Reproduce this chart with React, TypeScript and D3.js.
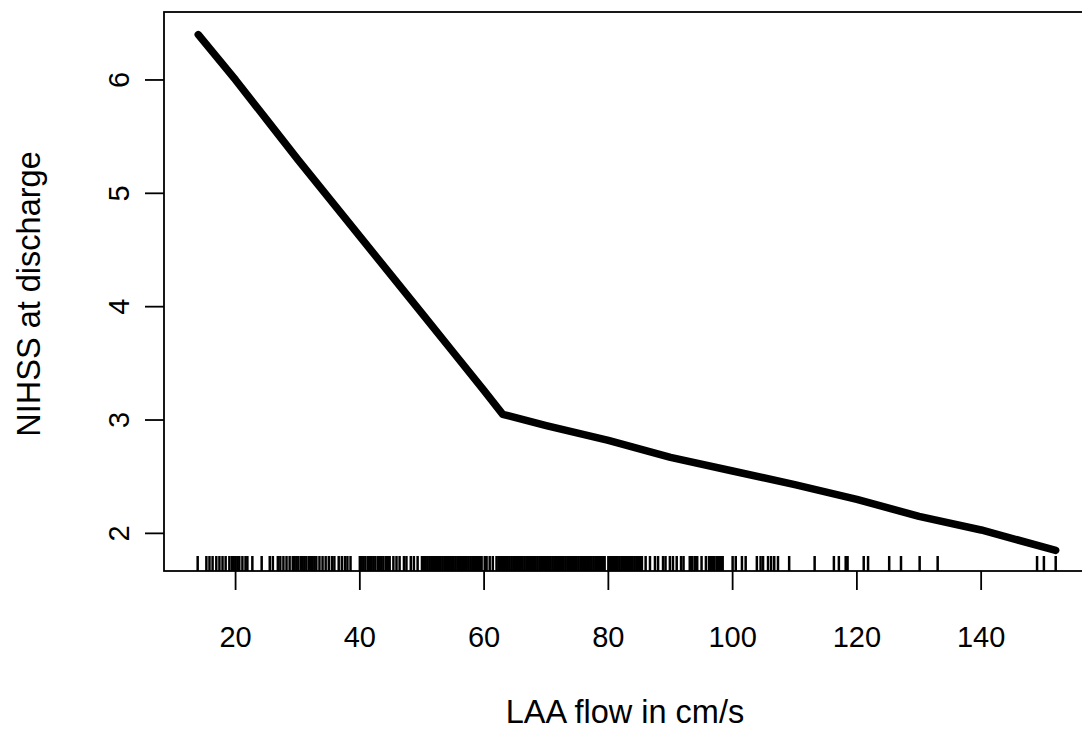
import React from "react";
import * as d3 from "d3";

// Fitted curve (LAA flow vs NIHSS at discharge)
const curveX = [14, 20, 25, 30, 35, 40, 45, 50, 55, 60, 63, 70, 80, 90, 100, 110, 120, 130, 140, 152];
const curveY = [6.40, 6.00, 5.65, 5.30, 4.96, 4.62, 4.28, 3.94, 3.60, 3.26, 3.05, 2.95, 2.82, 2.67, 2.55, 2.43, 2.30, 2.15, 2.03, 1.85];

// Rug of observed LAA flow values
const rugValues = [
  13.9, 15.3, 15.8, 16.3, 16.9, 17.4, 17.9, 18.4,
  19.0, 19.4, 19.7, 20.0, 20.3, 20.6, 21.1, 21.6, 21.9,
  22.7, 24.2, 25.5, 26.0,
  26.8, 27.2, 27.7, 28.2, 28.7,
  29.2, 29.5, 29.8, 30.1, 30.5, 30.8, 31.1, 31.4, 31.8, 32.1, 32.4, 32.7, 33.0,
  33.5, 34.0, 34.5, 35.0, 35.5, 35.9,
  36.6, 37.1, 37.6, 38.0, 38.5,
  40.0, 40.3, 40.6, 40.9, 41.3, 41.6, 41.9, 42.2, 42.5, 42.9, 43.2, 43.5, 43.8, 44.2, 44.5, 44.8,
  45.4, 45.9, 46.4, 47.1, 47.5, 48.2, 48.7, 49.3,
  50.0, 50.3, 50.6, 50.9, 51.2, 51.5, 51.8, 52.1, 52.4, 52.7, 53.0, 53.3, 53.6, 53.9, 54.2, 54.5,
  54.8, 55.1, 55.4, 55.7, 56.0, 56.3, 56.6, 56.9, 57.2, 57.5, 57.8, 58.1, 58.4, 58.7, 59.0, 59.3, 59.6,
  60.1, 60.4, 60.9, 61.4,
  62.0, 62.3, 62.6, 62.9, 63.2, 63.5, 63.8, 64.1, 64.4, 64.7, 65.0, 65.3, 65.6, 65.9, 66.2, 66.5,
  66.8, 67.1, 67.4, 67.7, 68.0, 68.3, 68.6, 68.9, 69.2, 69.5, 69.8, 70.1, 70.4, 70.7, 71.0, 71.3,
  71.6, 71.9, 72.2, 72.5, 72.8, 73.1, 73.4, 73.7, 74.0, 74.3, 74.6, 74.9, 75.2, 75.5, 75.8, 76.1,
  76.4, 76.7, 77.0, 77.3, 77.6, 77.9, 78.2, 78.5, 78.8, 79.1, 79.4,
  80.0, 80.3, 80.6, 80.9, 81.2, 81.5, 81.8, 82.1, 82.4, 82.7, 83.0, 83.3, 83.6, 83.9, 84.2, 84.5, 84.8, 85.1,
  85.4, 86.0, 86.7, 87.5, 88.0, 88.8, 89.2, 89.9, 90.4, 91.0, 91.7, 92.1, 93.1, 93.5, 93.9, 94.3, 95.0,
  95.7, 96.2, 96.5, 96.8, 97.1, 97.5, 97.8, 98.1, 98.4,
  100.0, 100.5, 101.5, 102.1, 103.9, 104.5, 104.9, 105.7, 106.2, 106.7, 107.3, 109.1,
  113.2, 116.3, 117.1, 118.2, 118.5, 121.1, 121.8, 125.2, 127.1, 130.1, 133.0,
  149.0, 150.1, 152.0,
];

const xTicks = [20, 40, 60, 80, 100, 120, 140];
const yTicks = [2, 3, 4, 5, 6];
const xLabel = "LAA flow in cm/s";
const yLabel = "NIHSS at discharge";

const W = 1082;
const H = 729;
const left = 164;
const right = 1090;
const top = 12;
const bottom = 571;

export default function App() {
  const x = d3.scaleLinear().domain([8.48, 157.52]).range([left, right]);
  const y = d3.scaleLinear().domain([1.668, 6.582]).range([bottom, 14]);
  const pts = curveX.map((v, i) => [v, curveY[i]] as [number, number]);
  const line = d3
    .line<[number, number]>()
    .x((d) => x(d[0]))
    .y((d) => y(d[1]));
  const font = "'Liberation Sans', Arial, sans-serif";
  return (
    <svg
      width={W}
      height={H}
      style={{ position: "absolute", left: 0, top: 0, background: "#fff" }}
    >
      <rect x={0} y={0} width={W} height={H} fill="#fff" />
      {/* plot box */}
      <rect
        x={left}
        y={top}
        width={right - left}
        height={bottom - top}
        fill="none"
        stroke="#000"
        strokeWidth={1.8}
      />
      {/* rug */}
      <g stroke="#000" strokeWidth={2.5}>
        {rugValues.map((v, i) => (
          <line key={i} x1={x(v)} x2={x(v)} y1={bottom} y2={bottom - 15} />
        ))}
      </g>
      {/* curve */}
      <path
        d={line(pts) || ""}
        fill="none"
        stroke="#000"
        strokeWidth={7.5}
        strokeLinejoin="round"
        strokeLinecap="round"
      />
      {/* x axis */}
      <g stroke="#000" strokeWidth={1.8}>
        {xTicks.map((t) => (
          <line key={t} x1={x(t)} x2={x(t)} y1={bottom} y2={bottom + 19} />
        ))}
      </g>
      <g fontFamily={font} fontSize={29} fill="#000" textAnchor="middle">
        {xTicks.map((t) => (
          <text key={t} x={x(t)} y={647}>
            {t}
          </text>
        ))}
      </g>
      {/* y axis */}
      <g stroke="#000" strokeWidth={1.8}>
        {yTicks.map((t) => (
          <line key={t} x1={left} x2={left - 19} y1={y(t)} y2={y(t)} />
        ))}
      </g>
      <g fontFamily={font} fontSize={29} fill="#000" textAnchor="middle">
        {yTicks.map((t) => (
          <text key={t} transform={`translate(129,${y(t)}) rotate(-90)`}>
            {t}
          </text>
        ))}
      </g>
      <text
        x={625}
        y={723}
        fontFamily={font}
        fontSize={32.5}
        textAnchor="middle"
        fill="#000"
      >
        {xLabel}
      </text>
      <text
        transform={`translate(40,${294}) rotate(-90)`}
        fontFamily={font}
        fontSize={32.5}
        textAnchor="middle"
        fill="#000"
      >
        {yLabel}
      </text>
    </svg>
  );
}
